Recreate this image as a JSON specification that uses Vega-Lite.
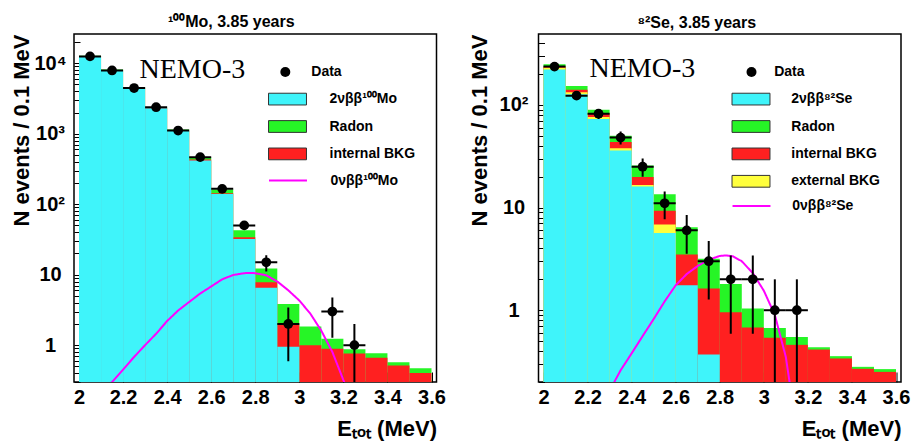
{
"$schema":"https://vega.github.io/schema/vega-lite/v6.json",
"background":"white",
"padding":{"left":10,"top":13,"right":5,"bottom":0},
"spacing":19.5,
"config":{
 "view":{"stroke":"black","strokeWidth":1.5},
 "font":"Liberation Sans",
 "axis":{"labelFont":"Liberation Sans","labelFontWeight":"bold","labelFontSize":20,"labelColor":"black","titleFont":"Liberation Sans","titleFontWeight":"bold","titleFontSize":22,"titleColor":"black","domain":false,"grid":false,"tickColor":"black","tickWidth":1,"labelOverlap":false,"labelFlush":false,"labelBound":false},
 "title":{"font":"Liberation Sans","fontWeight":"bold","fontSize":16,"color":"black"},
 "legend":{"labelFont":"Liberation Sans","labelFontWeight":"bold","labelFontSize":14,"labelColor":"black","symbolSize":196,"rowPadding":10.4,"padding":0,"titlePadding":0,"labelLimit":300,"symbolOpacity":1}
},
"datasets":{
 "histMo":[
  {"c":"Radon","lo":2.0,"hi":2.1,"n":12800},{"c":"Radon","lo":2.1,"hi":2.2,"n":8150},{"c":"Radon","lo":2.2,"hi":2.3,"n":4620},{"c":"Radon","lo":2.3,"hi":2.4,"n":2380},{"c":"Radon","lo":2.4,"hi":2.5,"n":1150},{"c":"Radon","lo":2.5,"hi":2.6,"n":465},{"c":"Radon","lo":2.6,"hi":2.7,"n":162},{"c":"Radon","lo":2.7,"hi":2.8,"n":42.8},{"c":"Radon","lo":2.8,"hi":2.9,"n":12.2},{"c":"Radon","lo":2.9,"hi":3.0,"n":3.85},{"c":"Radon","lo":3.0,"hi":3.1,"n":1.84},{"c":"Radon","lo":3.1,"hi":3.2,"n":1.23},{"c":"Radon","lo":3.2,"hi":3.3,"n":0.877},{"c":"Radon","lo":3.3,"hi":3.4,"n":0.77},{"c":"Radon","lo":3.4,"hi":3.5,"n":0.574},{"c":"Radon","lo":3.5,"hi":3.6,"n":0.472},
  {"c":"internal BKG","lo":2.0,"hi":2.1,"n":12650},{"c":"internal BKG","lo":2.1,"hi":2.2,"n":8000},{"c":"internal BKG","lo":2.2,"hi":2.3,"n":4520},{"c":"internal BKG","lo":2.3,"hi":2.4,"n":2320},{"c":"internal BKG","lo":2.4,"hi":2.5,"n":1110},{"c":"internal BKG","lo":2.5,"hi":2.6,"n":430},{"c":"internal BKG","lo":2.6,"hi":2.7,"n":143},{"c":"internal BKG","lo":2.7,"hi":2.8,"n":34},{"c":"internal BKG","lo":2.8,"hi":2.9,"n":7.8},{"c":"internal BKG","lo":2.9,"hi":3.0,"n":1.96},{"c":"internal BKG","lo":3.0,"hi":3.1,"n":1.0},{"c":"internal BKG","lo":3.1,"hi":3.2,"n":0.89},{"c":"internal BKG","lo":3.2,"hi":3.3,"n":0.762},{"c":"internal BKG","lo":3.3,"hi":3.4,"n":0.66},{"c":"internal BKG","lo":3.4,"hi":3.5,"n":0.515},{"c":"internal BKG","lo":3.5,"hi":3.6,"n":0.401},
  {"c":"2νββ¹⁰⁰Mo","lo":2.0,"hi":2.1,"n":12600},{"c":"2νββ¹⁰⁰Mo","lo":2.1,"hi":2.2,"n":7950},{"c":"2νββ¹⁰⁰Mo","lo":2.2,"hi":2.3,"n":4480},{"c":"2νββ¹⁰⁰Mo","lo":2.3,"hi":2.4,"n":2300},{"c":"2νββ¹⁰⁰Mo","lo":2.4,"hi":2.5,"n":1100},{"c":"2νββ¹⁰⁰Mo","lo":2.5,"hi":2.6,"n":418},{"c":"2νββ¹⁰⁰Mo","lo":2.6,"hi":2.7,"n":140},{"c":"2νββ¹⁰⁰Mo","lo":2.7,"hi":2.8,"n":32.2},{"c":"2νββ¹⁰⁰Mo","lo":2.8,"hi":2.9,"n":6.5},{"c":"2νββ¹⁰⁰Mo","lo":2.9,"hi":3.0,"n":0.95}
 ],
 "histSe":[
  {"c":"Radon","lo":2.0,"hi":2.1,"n":249},{"c":"Radon","lo":2.1,"hi":2.2,"n":153},{"c":"Radon","lo":2.2,"hi":2.3,"n":89.6},{"c":"Radon","lo":2.3,"hi":2.4,"n":50},{"c":"Radon","lo":2.4,"hi":2.5,"n":25.7},{"c":"Radon","lo":2.5,"hi":2.6,"n":13.5},{"c":"Radon","lo":2.6,"hi":2.7,"n":6.42},{"c":"Radon","lo":2.7,"hi":2.8,"n":3.18},{"c":"Radon","lo":2.8,"hi":2.9,"n":1.8},{"c":"Radon","lo":2.9,"hi":3.0,"n":1.04},{"c":"Radon","lo":3.0,"hi":3.1,"n":0.673},{"c":"Radon","lo":3.1,"hi":3.2,"n":0.55},{"c":"Radon","lo":3.2,"hi":3.3,"n":0.436},{"c":"Radon","lo":3.3,"hi":3.4,"n":0.357},{"c":"Radon","lo":3.4,"hi":3.5,"n":0.281},{"c":"Radon","lo":3.5,"hi":3.6,"n":0.267},
  {"c":"internal BKG","lo":2.0,"hi":2.1,"n":236},{"c":"internal BKG","lo":2.1,"hi":2.2,"n":140},{"c":"internal BKG","lo":2.2,"hi":2.3,"n":83},{"c":"internal BKG","lo":2.3,"hi":2.4,"n":43.4},{"c":"internal BKG","lo":2.4,"hi":2.5,"n":19.8},{"c":"internal BKG","lo":2.5,"hi":2.6,"n":9.33},{"c":"internal BKG","lo":2.6,"hi":2.7,"n":3.48},{"c":"internal BKG","lo":2.7,"hi":2.8,"n":1.63},{"c":"internal BKG","lo":2.8,"hi":2.9,"n":0.957},{"c":"internal BKG","lo":2.9,"hi":3.0,"n":0.68},{"c":"internal BKG","lo":3.0,"hi":3.1,"n":0.538},{"c":"internal BKG","lo":3.1,"hi":3.2,"n":0.46},{"c":"internal BKG","lo":3.2,"hi":3.3,"n":0.414},{"c":"internal BKG","lo":3.3,"hi":3.4,"n":0.339},{"c":"internal BKG","lo":3.4,"hi":3.5,"n":0.269},{"c":"internal BKG","lo":3.5,"hi":3.6,"n":0.251},
  {"c":"external BKG","lo":2.0,"hi":2.1,"n":230},{"c":"external BKG","lo":2.1,"hi":2.2,"n":133},{"c":"external BKG","lo":2.2,"hi":2.3,"n":76},{"c":"external BKG","lo":2.3,"hi":2.4,"n":37.9},{"c":"external BKG","lo":2.4,"hi":2.5,"n":16.6},{"c":"external BKG","lo":2.5,"hi":2.6,"n":6.82},
  {"c":"2νββ⁸²Se","lo":2.0,"hi":2.1,"n":221},{"c":"2νββ⁸²Se","lo":2.1,"hi":2.2,"n":127},{"c":"2νββ⁸²Se","lo":2.2,"hi":2.3,"n":73},{"c":"2νββ⁸²Se","lo":2.3,"hi":2.4,"n":36},{"c":"2νββ⁸²Se","lo":2.4,"hi":2.5,"n":16},{"c":"2νββ⁸²Se","lo":2.5,"hi":2.6,"n":5.65},{"c":"2νββ⁸²Se","lo":2.6,"hi":2.7,"n":1.75},{"c":"2νββ⁸²Se","lo":2.7,"hi":2.8,"n":0.37}
 ],
 "dataMo":[
  {"c":"Data","E":2.05,"lo":2.0,"hi":2.1,"n":12500,"elo":12388,"ehi":12612},
  {"c":"Data","E":2.15,"lo":2.1,"hi":2.2,"n":7900,"elo":7811,"ehi":7989},
  {"c":"Data","E":2.25,"lo":2.2,"hi":2.3,"n":4450,"elo":4383,"ehi":4517},
  {"c":"Data","E":2.35,"lo":2.3,"hi":2.4,"n":2380,"elo":2331,"ehi":2429},
  {"c":"Data","E":2.45,"lo":2.4,"hi":2.5,"n":1110,"elo":1077,"ehi":1143},
  {"c":"Data","E":2.55,"lo":2.5,"hi":2.6,"n":465,"elo":443,"ehi":487},
  {"c":"Data","E":2.65,"lo":2.6,"hi":2.7,"n":165,"elo":152,"ehi":178},
  {"c":"Data","E":2.75,"lo":2.7,"hi":2.8,"n":50,"elo":42.9,"ehi":57.1},
  {"c":"Data","E":2.85,"lo":2.8,"hi":2.9,"n":15,"elo":11.1,"ehi":18.9},
  {"c":"Data","E":2.95,"lo":2.9,"hi":3.0,"n":2,"elo":0.59,"ehi":3.41},
  {"c":"Data","E":3.15,"lo":3.1,"hi":3.2,"n":3,"elo":1.27,"ehi":4.73},
  {"c":"Data","E":3.25,"lo":3.2,"hi":3.3,"n":1,"elo":0.01,"ehi":2}
 ],
 "dataSe":[
  {"c":"Data","E":2.05,"lo":2.0,"hi":2.1,"n":236,"elo":220.6,"ehi":251.4},
  {"c":"Data","E":2.15,"lo":2.1,"hi":2.2,"n":123,"elo":111.9,"ehi":134.1},
  {"c":"Data","E":2.25,"lo":2.2,"hi":2.3,"n":82,"elo":72.9,"ehi":91.1},
  {"c":"Data","E":2.35,"lo":2.3,"hi":2.4,"n":48,"elo":41.1,"ehi":54.9},
  {"c":"Data","E":2.45,"lo":2.4,"hi":2.5,"n":25,"elo":20,"ehi":30},
  {"c":"Data","E":2.55,"lo":2.5,"hi":2.6,"n":11,"elo":7.68,"ehi":14.32},
  {"c":"Data","E":2.65,"lo":2.6,"hi":2.7,"n":6,"elo":3.55,"ehi":8.45},
  {"c":"Data","E":2.75,"lo":2.7,"hi":2.8,"n":3,"elo":1.27,"ehi":4.73},
  {"c":"Data","E":2.85,"lo":2.8,"hi":2.9,"n":2,"elo":0.59,"ehi":3.41},
  {"c":"Data","E":2.95,"lo":2.9,"hi":3.0,"n":2,"elo":0.59,"ehi":3.41},
  {"c":"Data","E":3.05,"lo":3.0,"hi":3.1,"n":1,"elo":0.01,"ehi":2},
  {"c":"Data","E":3.15,"lo":3.1,"hi":3.2,"n":1,"elo":0.01,"ehi":2}
 ],
 "curveMo":[
  {"c":"0νββ¹⁰⁰Mo","E":2.14,"v":0.28},{"c":"0νββ¹⁰⁰Mo","E":2.15,"v":0.3},{"c":"0νββ¹⁰⁰Mo","E":2.2,"v":0.45},{"c":"0νββ¹⁰⁰Mo","E":2.25,"v":0.68},{"c":"0νββ¹⁰⁰Mo","E":2.3,"v":1.0},{"c":"0νββ¹⁰⁰Mo","E":2.35,"v":1.45},{"c":"0νββ¹⁰⁰Mo","E":2.4,"v":2.2},{"c":"0νββ¹⁰⁰Mo","E":2.45,"v":3.1},{"c":"0νββ¹⁰⁰Mo","E":2.5,"v":4.1},{"c":"0νββ¹⁰⁰Mo","E":2.55,"v":5.4},{"c":"0νββ¹⁰⁰Mo","E":2.6,"v":6.8},{"c":"0νββ¹⁰⁰Mo","E":2.65,"v":8.6},{"c":"0νββ¹⁰⁰Mo","E":2.7,"v":9.9},{"c":"0νββ¹⁰⁰Mo","E":2.75,"v":10.5},{"c":"0νββ¹⁰⁰Mo","E":2.78,"v":10.6},{"c":"0νββ¹⁰⁰Mo","E":2.8,"v":10.5},{"c":"0νββ¹⁰⁰Mo","E":2.85,"v":9.8},{"c":"0νββ¹⁰⁰Mo","E":2.9,"v":8.0},{"c":"0νββ¹⁰⁰Mo","E":2.95,"v":6.0},{"c":"0νββ¹⁰⁰Mo","E":3.0,"v":4.3},{"c":"0νββ¹⁰⁰Mo","E":3.05,"v":2.8},{"c":"0νββ¹⁰⁰Mo","E":3.1,"v":1.6},{"c":"0νββ¹⁰⁰Mo","E":3.15,"v":0.8},{"c":"0νββ¹⁰⁰Mo","E":3.2,"v":0.32},{"c":"0νββ¹⁰⁰Mo","E":3.21,"v":0.27}
 ],
 "curveSe":[
  {"c":"0νββ⁸²Se","E":2.31,"v":0.18},{"c":"0νββ⁸²Se","E":2.35,"v":0.26},{"c":"0νββ⁸²Se","E":2.4,"v":0.38},{"c":"0νββ⁸²Se","E":2.45,"v":0.56},{"c":"0νββ⁸²Se","E":2.5,"v":0.82},{"c":"0νββ⁸²Se","E":2.55,"v":1.22},{"c":"0νββ⁸²Se","E":2.6,"v":1.75},{"c":"0νββ⁸²Se","E":2.65,"v":2.25},{"c":"0νββ⁸²Se","E":2.7,"v":2.7},{"c":"0νββ⁸²Se","E":2.75,"v":3.1},{"c":"0νββ⁸²Se","E":2.8,"v":3.38},{"c":"0νββ⁸²Se","E":2.83,"v":3.42},{"c":"0νββ⁸²Se","E":2.86,"v":3.35},{"c":"0νββ⁸²Se","E":2.9,"v":3.0},{"c":"0νββ⁸²Se","E":2.95,"v":2.3},{"c":"0νββ⁸²Se","E":3.0,"v":1.55},{"c":"0νββ⁸²Se","E":3.05,"v":0.9},{"c":"0νββ⁸²Se","E":3.1,"v":0.35},{"c":"0νββ⁸²Se","E":3.12,"v":0.18}
 ]
},
"resolve":{"scale":{"x":"independent","y":"independent","color":"independent","shape":"independent","strokeDash":"independent"},"legend":{"color":"independent","shape":"independent","strokeDash":"independent"}},
"hconcat":[
 {
  "width":362.5,"height":348,
  "title":{"text":"¹⁰⁰Mo, 3.85 years","dx":-24,"offset":-11,"baseline":"alphabetic","frame":"group"},
  "layer":[
   {"data":{"name":"histMo"},"mark":{"type":"bar","clip":true,"orient":"vertical"},
    "encoding":{
     "x":{"field":"lo","type":"quantitative","title":"Eₜₒₜ (MeV)","scale":{"domain":[2,3.6],"nice":false,"zero":false},
      "axis":{"values":[2,2.05,2.1,2.15,2.2,2.25,2.3,2.35,2.4,2.45,2.5,2.55,2.6,2.65,2.7,2.75,2.8,2.85,2.9,2.95,3,3.05,3.1,3.15,3.2,3.25,3.3,3.35,3.4,3.45,3.5,3.55,3.6],
       "labelExpr":"abs(datum.value*5 - round(datum.value*5)) < 0.001 ? format(datum.value, '~g') : ''",
       "tickSize":{"condition":{"test":"abs(datum.value*5 - round(datum.value*5)) < 0.001","value":-10},"value":-5},
       "labelPadding":15.5,"titleAnchor":"end","titlePadding":11}},
     "x2":{"field":"hi"},
     "y":{"field":"n","type":"quantitative","stack":null,"title":"N events / 0.1 MeV","scale":{"type":"log","domain":[0.3,26000],"nice":false},
      "axis":{"values":[0.3,0.4,0.5,0.6,0.7,0.8,0.9,1,2,3,4,5,6,7,8,9,10,20,30,40,50,60,70,80,90,100,200,300,400,500,600,700,800,900,1000,2000,3000,4000,5000,6000,7000,8000,9000,10000,20000],
       "labelExpr":"datum.value == 1 ? '1' : datum.value == 10 ? '10' : datum.value == 100 ? '10²' : datum.value == 1000 ? '10³' : datum.value == 10000 ? '10⁴' : ''",
       "tickSize":{"condition":{"test":"indexof([1,10,100,1000,10000], datum.value) >= 0","value":-11},"value":-6},
       "labelPadding":35,"labelAlign":"center","titleAnchor":"end","titlePadding":0}},
     "color":{"field":"c","type":"nominal",
      "scale":{"domain":["2νββ¹⁰⁰Mo","Radon","internal BKG"],"range":["#3ff4fa","#26f526","#ff2020"]},
      "legend":{"title":null,"orient":"none","legendX":206,"legendY":57.6,"symbolType":"M-2.71,-0.84H2.71V0.84H-2.71Z","symbolStrokeColor":"#333333","symbolStrokeWidth":1,"labelOffset":34.5}}
    }},
   {"data":{"name":"curveMo"},"mark":{"type":"line","clip":true,"strokeWidth":2,"color":"#ff00ff"},
    "encoding":{"x":{"field":"E","type":"quantitative","title":"Eₜₒₜ (MeV)"},"y":{"field":"v","type":"quantitative","title":"N events / 0.1 MeV"},
     "strokeDash":{"field":"c","type":"nominal","scale":{"domain":["0νββ¹⁰⁰Mo"],"range":[[1,0]]},
      "legend":{"title":null,"orient":"none","legendX":206,"legendY":138.6,"symbolType":"M-2.71,0H2.71","symbolStrokeColor":"#ff00ff","symbolStrokeWidth":2,"labelOffset":34.5}}}},
   {"data":{"name":"dataMo"},"mark":{"type":"rule","clip":true,"color":"black","strokeWidth":2},
    "encoding":{"x":{"field":"lo","type":"quantitative","title":"Eₜₒₜ (MeV)"},"x2":{"field":"hi"},"y":{"field":"n","type":"quantitative","title":"N events / 0.1 MeV"}}},
   {"data":{"name":"dataMo"},"mark":{"type":"rule","clip":true,"color":"black","strokeWidth":2},
    "encoding":{"x":{"field":"E","type":"quantitative","title":"Eₜₒₜ (MeV)"},"y":{"field":"elo","type":"quantitative","title":"N events / 0.1 MeV"},"y2":{"field":"ehi"}}},
   {"data":{"name":"dataMo"},"mark":{"type":"point","clip":true,"filled":true,"opacity":1,"size":95,"color":"black"},
    "encoding":{"x":{"field":"E","type":"quantitative","title":"Eₜₒₜ (MeV)"},"y":{"field":"n","type":"quantitative","title":"N events / 0.1 MeV"},
     "shape":{"field":"c","type":"nominal","scale":{"domain":["Data"],"range":["circle"]},
      "legend":{"title":null,"orient":"none","legendX":204.3,"legendY":31,"symbolSize":100,"symbolFillColor":"black","labelOffset":19}}}},
   {"data":{"values":[{"t":"NEMO-3"}]},"mark":{"type":"text","font":"Liberation Serif","fontSize":28,"color":"black"},
    "encoding":{"x":{"datum":2.5145,"type":"quantitative"},"y":{"datum":7900,"type":"quantitative"},"text":{"field":"t"}}}
  ]
 },
 {
  "width":362.5,"height":348,
  "title":{"text":"⁸²Se, 3.85 years","dx":-23,"offset":-11,"baseline":"alphabetic","frame":"group"},
  "layer":[
   {"data":{"name":"histSe"},"mark":{"type":"bar","clip":true,"orient":"vertical"},
    "encoding":{
     "x":{"field":"lo","type":"quantitative","title":"Eₜₒₜ (MeV)","scale":{"domain":[2,3.6],"nice":false,"zero":false},
      "axis":{"values":[2,2.05,2.1,2.15,2.2,2.25,2.3,2.35,2.4,2.45,2.5,2.55,2.6,2.65,2.7,2.75,2.8,2.85,2.9,2.95,3,3.05,3.1,3.15,3.2,3.25,3.3,3.35,3.4,3.45,3.5,3.55,3.6],
       "labelExpr":"abs(datum.value*5 - round(datum.value*5)) < 0.001 ? format(datum.value, '~g') : ''",
       "tickSize":{"condition":{"test":"abs(datum.value*5 - round(datum.value*5)) < 0.001","value":-10},"value":-5},
       "labelPadding":15.5,"titleAnchor":"end","titlePadding":11}},
     "x2":{"field":"hi"},
     "y":{"field":"n","type":"quantitative","stack":null,"title":"N events / 0.1 MeV","scale":{"type":"log","domain":[0.2,490],"nice":false},
      "axis":{"values":[0.2,0.3,0.4,0.5,0.6,0.7,0.8,0.9,1,2,3,4,5,6,7,8,9,10,20,30,40,50,60,70,80,90,100,200,300,400],
       "labelExpr":"datum.value == 1 ? '1' : datum.value == 10 ? '10' : datum.value == 100 ? '10²' : ''",
       "tickSize":{"condition":{"test":"indexof([1,10,100], datum.value) >= 0","value":-11},"value":-6},
       "labelPadding":36,"labelAlign":"center","titleAnchor":"end","titlePadding":8}},
     "color":{"field":"c","type":"nominal",
      "scale":{"domain":["2νββ⁸²Se","Radon","internal BKG","external BKG"],"range":["#3ff4fa","#26f526","#ff2020","#ffff3c"]},
      "legend":{"title":null,"orient":"none","legendX":205,"legendY":57.6,"symbolType":"M-2.71,-0.84H2.71V0.84H-2.71Z","symbolStrokeColor":"#333333","symbolStrokeWidth":1,"labelOffset":32.8}}
    }},
   {"data":{"name":"curveSe"},"mark":{"type":"line","clip":true,"strokeWidth":2,"color":"#ff00ff"},
    "encoding":{"x":{"field":"E","type":"quantitative","title":"Eₜₒₜ (MeV)"},"y":{"field":"v","type":"quantitative","title":"N events / 0.1 MeV"},
     "strokeDash":{"field":"c","type":"nominal","scale":{"domain":["0νββ⁸²Se"],"range":[[1,0]]},
      "legend":{"title":null,"orient":"none","legendX":205,"legendY":164,"symbolType":"M-2.71,0H2.71","symbolStrokeColor":"#ff00ff","symbolStrokeWidth":2,"labelOffset":32.8}}}},
   {"data":{"name":"dataSe"},"mark":{"type":"rule","clip":true,"color":"black","strokeWidth":2},
    "encoding":{"x":{"field":"lo","type":"quantitative","title":"Eₜₒₜ (MeV)"},"x2":{"field":"hi"},"y":{"field":"n","type":"quantitative","title":"N events / 0.1 MeV"}}},
   {"data":{"name":"dataSe"},"mark":{"type":"rule","clip":true,"color":"black","strokeWidth":2},
    "encoding":{"x":{"field":"E","type":"quantitative","title":"Eₜₒₜ (MeV)"},"y":{"field":"elo","type":"quantitative","title":"N events / 0.1 MeV"},"y2":{"field":"ehi"}}},
   {"data":{"name":"dataSe"},"mark":{"type":"point","clip":true,"filled":true,"opacity":1,"size":95,"color":"black"},
    "encoding":{"x":{"field":"E","type":"quantitative","title":"Eₜₒₜ (MeV)"},"y":{"field":"n","type":"quantitative","title":"N events / 0.1 MeV"},
     "shape":{"field":"c","type":"nominal","scale":{"domain":["Data"],"range":["circle"]},
      "legend":{"title":null,"orient":"none","legendX":206,"legendY":31,"symbolSize":100,"symbolFillColor":"black","labelOffset":15.7}}}},
   {"data":{"values":[{"t":"NEMO-3"}]},"mark":{"type":"text","font":"Liberation Serif","fontSize":28,"color":"black"},
    "encoding":{"x":{"datum":2.449,"type":"quantitative"},"y":{"datum":222,"type":"quantitative"},"text":{"field":"t"}}}
  ]
 }
]
}
